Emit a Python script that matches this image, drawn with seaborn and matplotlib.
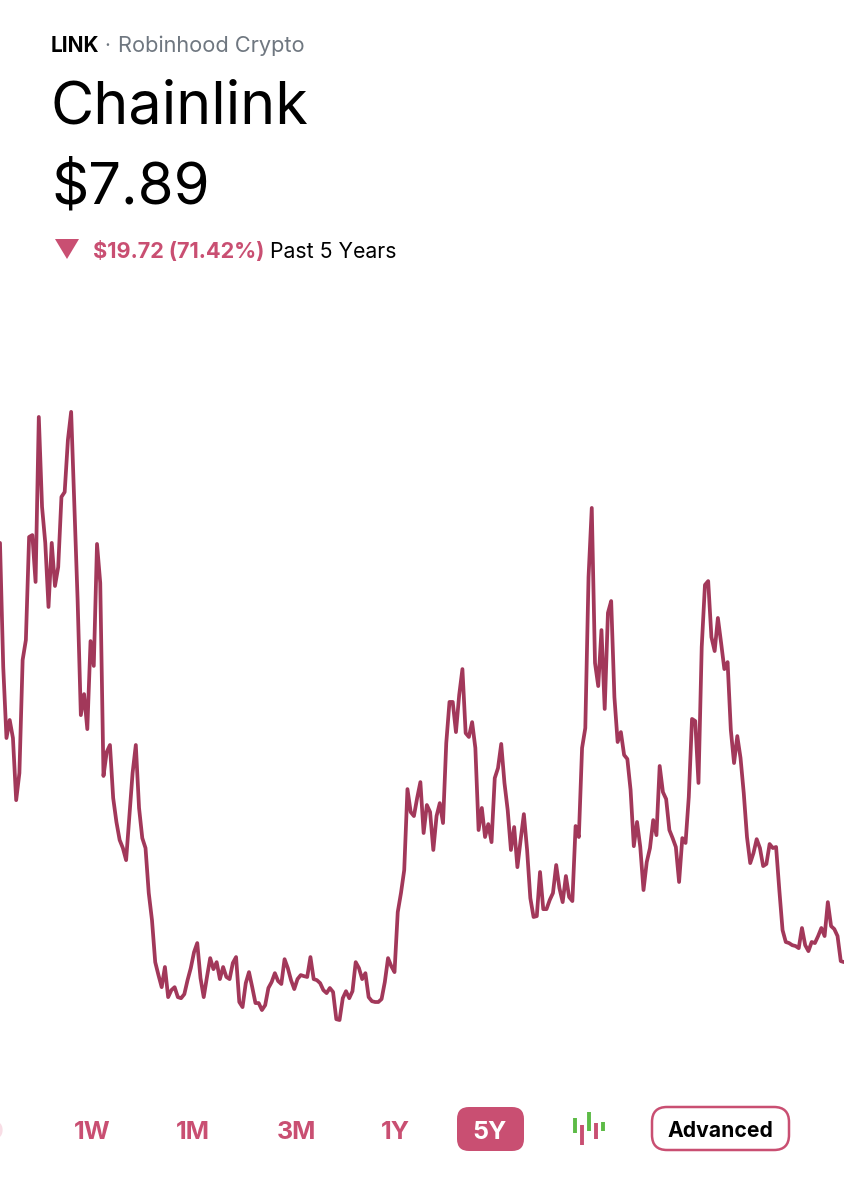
import numpy as np
import pandas as pd
import matplotlib.pyplot as plt
import seaborn as sns
from matplotlib.patches import FancyBboxPatch, Polygon

# weekly closes, dollars
prices = [
    27.61, 21.76, 18.41, 19.26, 18.41, 15.48, 16.76, 22.09, 23.03, 27.89, 27.98, 25.77, 33.55, 29.31,
    27.61, 24.59, 27.61, 25.58, 26.47, 29.78, 30.01, 32.47, 33.79, 29.31, 24.92, 19.49, 20.48, 18.83,
    22.98, 21.81, 27.56, 25.72, 16.62, 17.75, 18.08, 15.58, 14.45, 13.60, 13.22, 12.65, 14.68, 16.76,
    18.08, 15.11, 13.69, 13.22, 11.10, 9.82, 7.84, 7.23, 6.66, 7.61, 6.19, 6.52, 6.66, 6.19, 6.14,
    6.33, 6.99, 7.56, 8.31, 8.74, 7.09, 6.19, 7.14, 8.03,
    7.51, 7.84, 7.04, 7.61, 7.14, 7.04, 7.80, 8.08, 5.96, 5.72, 6.85, 7.37, 6.66, 5.91, 5.91, 5.58,
    5.81, 6.62, 6.90, 7.32, 6.95, 6.81, 7.98, 7.56, 6.99, 6.57, 7.04, 7.23, 7.18, 7.14, 8.08, 7.04,
    6.99, 6.85, 6.52, 6.38, 6.62, 6.43, 5.15, 5.11, 6.14, 6.47, 6.14, 6.47, 7.84, 7.56, 7.04, 7.32,
    6.19, 6.00, 5.96, 5.96, 6.10, 6.90, 8.03, 7.65, 7.37, 10.20, 11.10, 12.18, 16.00, 14.92, 14.73,
    15.58, 16.33, 13.93, 15.25, 14.92, 13.13, 14.73, 15.34, 14.40, 18.17, 20.11, 20.11, 18.69, 20.44,
    21.66, 18.64, 18.46, 19.16, 17.94, 14.07, 15.11, 13.74, 14.35, 13.50, 16.52, 16.99, 18.13, 16.29,
    15.01, 13.13, 14.21, 12.32, 13.60, 14.82, 13.13, 10.86, 9.97, 10.01, 12.09, 10.34, 10.34, 10.77,
    11.10, 12.42, 11.33, 10.67, 11.90, 10.91, 10.72, 14.26, 13.74, 17.94, 18.88, 26.00, 29.26, 21.95,
    20.86, 23.50, 19.78, 24.31, 24.87, 20.34, 18.22, 18.69, 17.61, 17.42, 15.96, 13.31, 14.45, 13.27,
    11.24, 12.56, 13.22, 14.54, 13.83, 17.09, 15.86, 15.53, 14.07, 13.69, 13.27, 11.62, 13.69, 13.46,
    15.63, 19.31, 19.21, 16.29, 22.70, 25.63, 25.81, 23.17, 22.51, 24.07, 22.89, 21.66, 21.99, 18.79,
    17.23, 18.50, 17.47, 15.81, 13.74, 12.51, 12.98, 13.64, 13.22, 12.37, 12.47, 13.41, 13.22, 13.27,
    11.24, 9.35, 8.79, 8.74, 8.64, 8.60, 8.50, 9.45, 8.64, 8.36, 8.79, 8.74, 9.07, 9.45, 9.07, 10.67,
    9.54, 9.40, 9.07, 7.89, 7.84,
]
ranges = ['1W', '1M', '3M', '1Y', '5Y']

RED = '#C94F72'
LINE = '#A2385A'

sns.set_theme(style='white')
plt.rcParams['font.family'] = ['Inter', 'DejaVu Sans']

fig = plt.figure(figsize=(8.44, 12), dpi=100, facecolor='white')

# price line, axes spans y pixels 400 to 1030
ax = fig.add_axes([0, 170 / 1200, 1, 630 / 1200])
df = pd.DataFrame({'week': np.arange(len(prices)), 'price': prices})
sns.lineplot(data=df, x='week', y='price', color=LINE, linewidth=2.7, ax=ax)
ax.set_xlim(0, len(prices) - 1)
ax.set_ylim(4.64, 34.35)
ax.axis('off')

# overlay in pixel coords for the app header and buttons
ui = fig.add_axes([0, 0, 1, 1], zorder=3)
ui.set_xlim(0, 844)
ui.set_ylim(1200, 0)
ui.axis('off')
ui.patch.set_alpha(0)

ui.text(51, 52, 'LINK', fontsize=15, fontweight='bold', color='black')
ui.text(104, 52, '·', fontsize=14.5, color='#6F7780')
ui.text(118, 52, 'Robinhood Crypto', fontsize=15.7, color='#6F7780')
ui.text(51, 124, 'Chainlink', fontsize=42.6, color='black')
ui.text(51, 204, '$7.89', fontsize=41.8, color='black')

ui.add_patch(Polygon([(55, 239), (79, 239), (67, 259)], closed=True, color=RED, lw=0))
ui.text(93, 258, '$19.72 (71.42%)', fontsize=15.6, fontweight='bold', color=RED)
ui.text(270, 258, 'Past 5 Years', fontsize=15.3, color='black')

# range buttons
ui.text(5, 1139, '1D', fontsize=18, fontweight='bold', color='#F8DDE5', ha='right')
for label, xc in zip(ranges, [92, 193, 296, 395, 490]):
    col = 'white' if label == '5Y' else RED
    if label == '5Y':
        ui.add_patch(FancyBboxPatch((465, 1115), 51, 28, boxstyle='round,pad=8,rounding_size=12',
                                    fc=RED, ec='none'))
    ui.text(xc, 1139, label, fontsize=18, fontweight='bold', color=col, ha='center', zorder=4)

# candlestick icon
for xb, y0, y1, c in [(574.6, 1118, 1133, '#5DBB46'), (581.7, 1125, 1145, RED), (589, 1112, 1131, '#5DBB46'),
                      (596, 1123, 1139, RED), (603, 1122, 1131, '#5DBB46')]:
    ui.plot([xb, xb], [y0, y1], color=c, lw=2.8, solid_capstyle='butt')

ui.add_patch(FancyBboxPatch((663, 1118), 115, 21, boxstyle='round,pad=11,rounding_size=15',
                            fc='white', ec=RED, lw=1.8))
ui.text(720, 1137, 'Advanced', fontsize=15.2, fontweight='bold', color='black', ha='center')

fig.savefig('out.png', dpi=100)
